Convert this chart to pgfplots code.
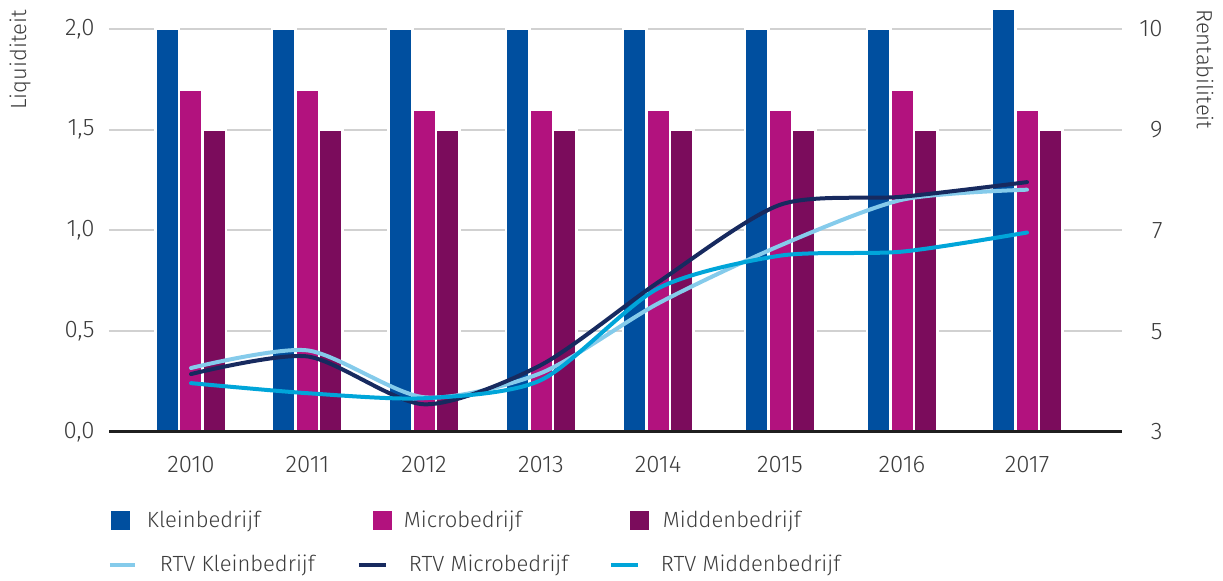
\documentclass[border=0pt]{standalone}
\usepackage{pgfplots}
\pgfplotsset{compat=1.18}
\usepackage{pgfplotstable}
\usepackage{fontspec}
\setmainfont{Fira Sans}[UprightFont={* Light}]

\definecolor{klein}{HTML}{004F9F}
\definecolor{micro}{HTML}{B2127E}
\definecolor{midden}{HTML}{7B0C5C}
\definecolor{rtvklein}{HTML}{85CBEB}
\definecolor{rtvmicro}{HTML}{172A5F}
\definecolor{rtvmidden}{HTML}{00A5D9}
\definecolor{txt}{HTML}{3C3C3C}

% x positions (category centres)
\pgfplotstableread{
x     klein micro midden
0     2.0   1.7   1.5
116.5 2.0   1.7   1.5
233   2.0   1.6   1.5
350   2.0   1.6   1.5
467   2.0   1.6   1.5
589   2.0   1.6   1.5
711   2.0   1.7   1.5
836   2.1   1.6   1.5
}\bars
\pgfplotstableread{
x     rk   rm   rd
0     4.27 4.15 3.97
116.5 4.62 4.50 3.77
233   3.69 3.55 3.67
350   4.17 4.33 4.03
467   5.55 5.97 5.85
589   6.70 7.51 6.50
711   7.61 7.67 6.58
836   7.81 7.96 6.96
}\rtv

\begin{document}
\begin{tikzpicture}[font=\fontsize{11}{13}\selectfont, text=txt]
\path[use as bounding box] (-54.5pt,-74.5pt) rectangle (557pt,216pt);
\begin{axis}[
  at={(0,0)}, anchor=south west,
  scale only axis, width=506.5pt, height=201.5pt,
  xmin=-82, xmax=931, ymin=0, ymax=2,
  clip=false,
  axis line style={draw=none},
  ybar, bar width=11.75pt,
  ytick={0,0.5,1,1.5,2},
  ymajorgrids, grid style={line width=1pt, color=black!18},
  major tick length=0pt,
  xtick={0,116.5,233,350,467,589,711,836},
  xticklabels={2010,2011,2012,2013,2014,2015,2016,2017},
  xticklabel style={yshift=-8.5pt, font=\fontsize{12}{14}\selectfont},
  yticklabel style={xshift=-3.7pt, font=\fontsize{12}{14}\selectfont, /pgf/number format/.cd, fixed, fixed zerofill, precision=1, use comma, assume math mode=true},
  tick label style={text=txt},
  legend cell align=left,
  legend columns=3,
  legend style={at={(0,0)}, anchor=north west, xshift=-0.5pt, yshift=-33.5pt,
    draw=none, fill=none, inner sep=0pt, outer sep=0pt,
    column sep=0pt, row sep=0pt, nodes={inner sep=0pt, text=txt}},
]
\addplot[fill=klein, draw=white, line width=1.25pt, bar shift=-11.75pt,
  legend image code/.code={\path[draw=none, fill=none] (0pt,-11pt) rectangle (18.5pt,11pt);
    \fill[klein, draw=none] (0.5pt,-4.75pt) rectangle (10pt,4.75pt);}]
  table[x=x, y=klein] {\bars};
\addlegendentry{\makebox[105pt][l]{Kleinbedrijf}}
\addplot[fill=micro, draw=white, line width=1.25pt, bar shift=0pt,
  legend image code/.code={\path[draw=none, fill=none] (0pt,-11pt) rectangle (22.5pt,11pt);
    \fill[micro, draw=none] (7pt,-4.75pt) rectangle (16.5pt,4.75pt);}]
  table[x=x, y=micro] {\bars};
\addlegendentry{\makebox[102.5pt][l]{Microbedrijf}}
\addplot[fill=midden, draw=white, line width=1.25pt, bar shift=11.75pt,
  legend image code/.code={\path[draw=none, fill=none] (0pt,-11pt) rectangle (25pt,11pt);
    \fill[midden, draw=none] (9.5pt,-4.75pt) rectangle (19pt,4.75pt);}]
  table[x=x, y=midden] {\bars};
\addlegendentry{\hspace*{1pt}Middenbedrijf}
\addlegendimage{legend image code/.code={\path[draw=none, fill=none] (0pt,-11pt) rectangle (18.5pt,11pt);
    \draw[rtvklein, line width=2pt] (0pt,0pt) -- (12.5pt,0pt);}}
\addlegendentry{\makebox[105pt][l]{\hspace*{6.5pt}RTV Kleinbedrijf}}
\addlegendimage{legend image code/.code={\path[draw=none, fill=none] (0pt,-11pt) rectangle (22.5pt,11pt);
    \draw[rtvmicro, line width=2pt] (0pt,0pt) -- (13.5pt,0pt);}}
\addlegendentry{\makebox[102.5pt][l]{\hspace*{2.5pt}RTV Microbedrijf}}
\addlegendimage{legend image code/.code={\path[draw=none, fill=none] (0pt,-11pt) rectangle (25pt,11pt);
    \draw[rtvmidden, line width=2pt] (0pt,0pt) -- (13.5pt,0pt);}}
\addlegendentry{RTV Middenbedrijf}
\end{axis}
\begin{axis}[
  at={(0,0)}, anchor=south west,
  scale only axis, width=506.5pt, height=201.5pt,
  xmin=-82, xmax=931, ymin=3, ymax=11,
  axis x line*=bottom, axis y line*=right,
  y axis line style={draw=none},
  x axis line style={line width=1.5pt, color=black!88},
  xtick=\empty,
  ytick={3,5,7,9,11}, yticklabels={3,5,7,9,10},
  yticklabel style={anchor=east, xshift=23.8pt, text=txt, font=\fontsize{12}{14}\selectfont},
  major tick length=0pt,
]
\addplot[rtvklein, line width=2pt, smooth, tension=0.45, line cap=round] table[x=x, y=rk] {\rtv};
\addplot[rtvmicro, line width=2pt, smooth, tension=0.45, line cap=round] table[x=x, y=rm] {\rtv};
\addplot[rtvmidden, line width=2pt, smooth, tension=0.45, line cap=round] table[x=x, y=rd] {\rtv};
\end{axis}
\node[rotate=90, anchor=east, inner sep=0pt, font=\fontsize{11}{13}\selectfont] at (-44.5pt,211pt) {Liquiditeit};
\node[rotate=-90, anchor=west, inner sep=0pt, font=\fontsize{11}{13}\selectfont] at (548pt,211.5pt) {Rentabiliteit};
\end{tikzpicture}
\end{document}
